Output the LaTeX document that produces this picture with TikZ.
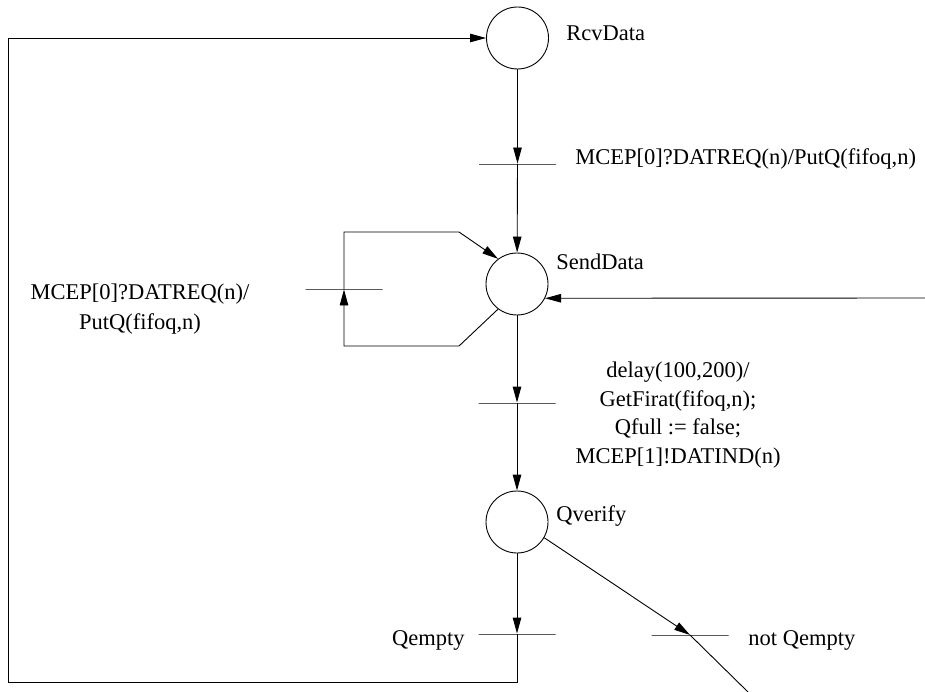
\documentclass[tikz,border=0pt]{standalone}
\usepackage{fontspec}
\setmainfont{Liberation Serif}
\usetikzlibrary{arrows.meta}
\begin{document}
\begin{tikzpicture}[x=1pt,y=-1pt,line width=0.9pt,
  state/.style={draw,circle,minimum size=62pt,inner sep=0pt},
  bar/.style={draw,rectangle,minimum width=77pt,minimum height=0pt,inner sep=0pt},
  arr/.style={-{Triangle[length=16pt,width=8.5pt]}},
  lbl/.style={inner sep=0pt,font=\fontsize{22.5}{27}\selectfont}]
\useasboundingbox (0,0) rectangle (925,692);
% states
\node[state] (R) at (517.5,38) {};
\node[state] (S) at (517,284) {};
\node[state] (V) at (517,522) {};
% transition bars
\node[bar] (t1) at (517.5,164) {};
\node[bar] (t2) at (517,403) {};
\node[bar] (t3) at (344,289) {};
\node[bar] (t4) at (517,634) {};
\node[bar] (t5) at (690,635) {};
% free ends
\coordinate (e) at (925,298);
\coordinate (b) at (748,692);
\coordinate (l1) at (459,346);
\coordinate (l2) at (344,346);
\coordinate (l3) at (344,232);
\coordinate (l4) at (459,232);
\coordinate (c1) at (517,682);
\coordinate (c2) at (8,682);
% labels
\node[lbl,anchor=base west] (nR) at (566,41) {RcvData};
\node[lbl,anchor=base west] (nS) at (556,270) {SendData};
\node[lbl,anchor=base west] (nV) at (556,521) {Qverify};
\node[lbl,anchor=base east] (nE) at (465,645) {Qempty};
\node[lbl,anchor=base west] (nN) at (748,645) {not Qempty};
\node[lbl,anchor=base west] (n1) at (575,165) {MCEP[0]?DATREQ(n)/PutQ(fifoq,n)};
\node[lbl,anchor=north,align=center,font=\fontsize{22.5}{30}\selectfont] (n3) at (140,283.5)
  {MCEP[0]?DATREQ(n)/\\PutQ(fifoq,n)};
\node[lbl,anchor=north,align=center,font=\fontsize{22.5}{28.7}\selectfont] (n2) at (678,361.5)
  {delay(100,200)/\\GetFirat(fifoq,n);\\Qfull := false;\\MCEP[1]!DATIND(n)};
% connectors
\draw[arr] (R) -- (t1);
\draw[arr] (t1.center) -- (S);
\draw[arr] (S) -- (t2);
\draw[arr] (t2.center) -- (V);
\draw[arr] (V) -- (t4);
\draw[arr] (t4.center) -- (c1) -- (c2) |- (R);
\draw[arr] (e) -- (S.-27);
\draw[arr] (S.-127) -- (l1) -- (l2) -- (t3);
\draw[arr] (t3.center) -- (l3) -- (l4) -- (S.127);
\draw[arr] (V.-30) -- (t5.center);
\draw (t5.center) -- (b);
\end{tikzpicture}
\end{document}
